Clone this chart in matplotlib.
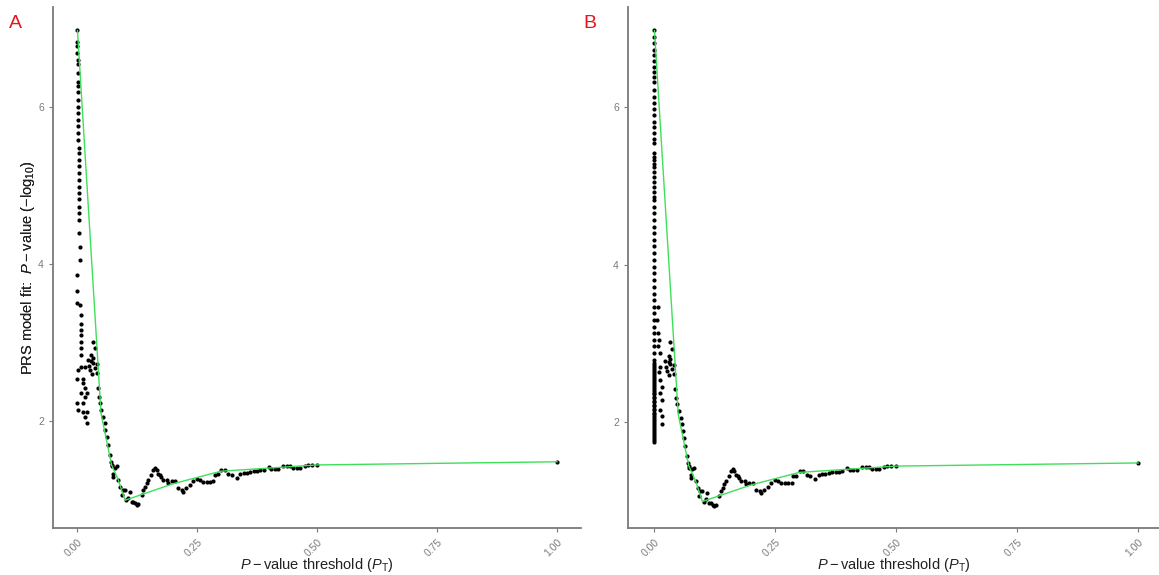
import matplotlib
matplotlib.use("Agg")
import matplotlib.pyplot as plt

plt.rcParams["font.family"] = ["Liberation Sans", "DejaVu Sans"]
plt.rcParams["mathtext.fontset"] = "custom"
plt.rcParams["mathtext.rm"] = "Liberation Sans"
plt.rcParams["mathtext.it"] = "Liberation Sans:italic"

# ---- data ----
# panel A: thresholds close to zero
a0_x = [0.0005, 0.0008, 0.001, 0.001, 0.0012, 0.0014, 0.0015, 0.0016, 0.0018, 0.002,
        0.002, 0.0022, 0.0025, 0.0025, 0.003, 0.003, 0.003, 0.0032, 0.0035, 0.0035,
        0.004, 0.004, 0.004, 0.0042, 0.0045, 0.0045, 0.005, 0.005, 0.005, 0.004,
        0.006, 0.007,
        0.000, 0.000, 0.000, 0.006, 0.009, 0.009, 0.009, 0.009, 0.009, 0.009,
        0.009, 0.003, 0.009, 0.017, 0.000, 0.013, 0.013, 0.017, 0.009, 0.020,
        0.017, 0.000, 0.013, 0.003, 0.013, 0.020, 0.017, 0.020]
a0_y = [6.98, 6.83, 6.77, 6.68, 6.60, 6.54, 6.43, 6.32, 6.26, 6.19,
        6.09, 6.00, 5.92, 5.83, 5.75, 5.66, 5.58, 5.47, 5.41, 5.32,
        5.24, 5.16, 5.07, 4.98, 4.90, 4.82, 4.73, 4.65, 4.56, 4.39,
        4.22, 4.05,
        3.86, 3.65, 3.50, 3.48, 3.35, 3.24, 3.16, 3.10, 3.01, 2.93,
        2.84, 2.65, 2.69, 2.69, 2.54, 2.54, 2.48, 2.42, 2.35, 2.35,
        2.31, 2.23, 2.23, 2.14, 2.12, 2.12, 2.05, 1.97]

# panel B: thresholds close to zero
b0_x = [0.0005, 0.0005, 0.0006, 0.0006, 0.0007, 0.0007, 0.0008, 0.0008, 0.0009, 0.0009,
        0.001, 0.001, 0.001, 0.001, 0.001, 0.001, 0.001, 0.001, 0.001, 0.001,
        0.001, 0.001, 0.001, 0.001, 0.001, 0.001, 0.001, 0.001, 0.001, 0.001,
        0.001, 0.001, 0.001, 0.001, 0.001, 0.001, 0.001, 0.001, 0.001, 0.001,
        0.001, 0.001, 0.001, 0.001, 0.001, 0.001, 0.001, 0.001, 0.001, 0.001,
        0.001, 0.001, 0.001, 0.001, 0.001, 0.001,
        0.008, 0.006, 0.008, 0.010, 0.008, 0.012,
        0.013, 0.011, 0.013, 0.016, 0.013, 0.016, 0.013, 0.016, 0.016]
b0_y = [6.98, 6.89, 6.81, 6.72, 6.66, 6.58, 6.51, 6.45, 6.38, 6.32,
        6.22, 6.13, 6.05, 5.98, 5.90, 5.81, 5.75, 5.67, 5.60, 5.54,
        5.41, 5.37, 5.33, 5.28, 5.24, 5.18, 5.11, 5.05, 4.99, 4.92,
        4.86, 4.82, 4.73, 4.65, 4.57, 4.48, 4.40, 4.31, 4.23, 4.14,
        4.06, 3.97, 3.89, 3.80, 3.72, 3.63, 3.55, 3.46, 3.38, 3.30,
        3.21, 3.13, 3.04, 2.96, 2.87, 2.79,
        3.46, 3.30, 3.13, 3.04, 2.96, 2.87,
        2.70, 2.64, 2.53, 2.45, 2.37, 2.28, 2.15, 2.07, 1.98]

# panel B: the solid run of points at threshold ~0
b_run_y = [2.75, 2.72, 2.70, 2.67, 2.65, 2.62, 2.60, 2.57, 2.55, 2.52,
           2.50, 2.47, 2.45, 2.42, 2.40, 2.37, 2.35, 2.32, 2.30, 2.27,
           2.25, 2.22, 2.20, 2.17, 2.15, 2.12, 2.10, 2.07, 2.05, 2.02,
           2.00, 1.97, 1.95, 1.92, 1.90, 1.87, 1.85, 1.82, 1.80, 1.77, 1.75]

# both panels: thresholds above ~0.02
mid_x = [0.023, 0.025, 0.027, 0.030, 0.030, 0.031, 0.034, 0.034, 0.034, 0.0375,
         0.0375, 0.041, 0.041, 0.044, 0.046, 0.048, 0.051, 0.055, 0.058, 0.059,
         0.062, 0.065, 0.069, 0.070, 0.072, 0.073, 0.076, 0.076, 0.079, 0.083,
         0.086, 0.090, 0.093, 0.096, 0.100, 0.103, 0.107, 0.110, 0.114, 0.117,
         0.121, 0.124, 0.128, 0.135, 0.138, 0.142, 0.145, 0.148, 0.155, 0.159,
         0.163, 0.166, 0.169, 0.173, 0.176, 0.180, 0.187, 0.190, 0.197, 0.204,
         0.211, 0.218, 0.221, 0.228, 0.235, 0.242, 0.249, 0.256, 0.263, 0.270,
         0.277, 0.284, 0.288, 0.294, 0.301, 0.308, 0.315, 0.322, 0.333, 0.340,
         0.347, 0.354, 0.361, 0.368, 0.375, 0.382, 0.389, 0.399, 0.405, 0.412,
         0.419, 0.430, 0.437, 0.444, 0.451, 0.458, 0.465, 0.475, 0.482, 0.490,
         0.499, 1.000]
mid_y = [2.78, 2.70, 2.65, 2.84, 2.76, 2.60, 3.01, 2.80, 2.74, 2.93,
         2.67, 2.73, 2.61, 2.42, 2.31, 2.23, 2.14, 2.05, 1.97, 1.89,
         1.80, 1.69, 1.57, 1.48, 1.42, 1.44, 1.33, 1.29, 1.40, 1.42,
         1.25, 1.16, 1.06, 1.12, 1.12, 0.99, 1.02, 1.10, 0.97, 0.97,
         0.95, 0.93, 0.94, 1.06, 1.12, 1.16, 1.21, 1.25, 1.31, 1.38,
         1.40, 1.38, 1.33, 1.31, 1.29, 1.25, 1.25, 1.21, 1.23, 1.23,
         1.14, 1.12, 1.10, 1.14, 1.18, 1.23, 1.26, 1.25, 1.22, 1.22,
         1.22, 1.23, 1.31, 1.32, 1.38, 1.38, 1.33, 1.31, 1.27, 1.33,
         1.34, 1.34, 1.35, 1.36, 1.36, 1.37, 1.38, 1.41, 1.39, 1.39,
         1.39, 1.43, 1.43, 1.43, 1.40, 1.40, 1.40, 1.43, 1.44, 1.44,
         1.44, 1.48]

# green line through the main thresholds
line_x = [0.001, 0.05, 0.062, 0.072, 0.086, 0.10, 0.20, 0.30, 0.40, 0.50, 1.00]
line_y = [6.97, 2.10, 1.74, 1.44, 1.25, 0.99, 1.20, 1.36, 1.40, 1.44, 1.48]

x_ticks = [0.00, 0.25, 0.50, 0.75, 1.00]
x_tick_labels = ["0.00", "0.25", "0.50", "0.75", "1.00"]
y_ticks = [2, 4, 6]

panels = [
    ("A", a0_x + mid_x, a0_y + mid_y),
    ("B", b0_x + [0.0] * len(b_run_y) + mid_x, b0_y + b_run_y + mid_y),
]

W, H = 1159, 575
fig = plt.figure(figsize=(W / 100, H / 100), dpi=100)

# axes boxes in pixels: left, right, top, bottom; plus data limits
boxes = [
    (53, 581, 7, 528, (-0.05, 1.05), (0.637, 7.27)),
    (628, 1159, 7, 528, (-0.0537, 1.043), (0.654, 7.27)),
]

grey = "#7a7a7a"
for (tag, xs, ys), (l, r, t, b, xl, yl) in zip(panels, boxes):
    ax = fig.add_axes([l / W, 1 - b / H, (r - l) / W, (b - t) / H])
    ax.scatter(xs, ys, s=9, color="black", linewidths=0, zorder=2)
    ax.plot(line_x, line_y, color="#3ee05a", lw=1.0, zorder=3)
    ax.set_xlim(*xl)
    ax.set_ylim(*yl)

    for side in ["top", "right"]:
        ax.spines[side].set_visible(False)
    for side in ["left", "bottom"]:
        ax.spines[side].set_color(grey)
        ax.spines[side].set_linewidth(1.3)

    ax.set_xticks(x_ticks)
    ax.set_xticklabels(x_tick_labels, rotation=45, ha="right", rotation_mode="anchor")
    ax.set_yticks(y_ticks)
    ax.tick_params(colors=grey, labelcolor=grey, labelsize=7.5, length=3, width=0.8)

    ax.set_xlabel(r"$P-$value threshold $(P_{\mathrm{T}})$", fontsize=10.5, color="#222222")
    ax.set_ylabel(r"PRS model fit:  $P-$value $(-\mathrm{log}_{10})$", fontsize=10.5, color="#222222")
    ax.xaxis.label.set_va("center")
    ax.yaxis.label.set_va("center")
    ax.xaxis.set_label_coords(0.5, (b - 565) / (b - t))
    ax.yaxis.set_label_coords((28 - l) / (r - l), 0.5)

    fig.text((l - 38) / W, 1 - 23 / H, tag, color="#e8141b", fontsize=14,
             ha="center", va="center")

fig.savefig("out.png", dpi=100)
